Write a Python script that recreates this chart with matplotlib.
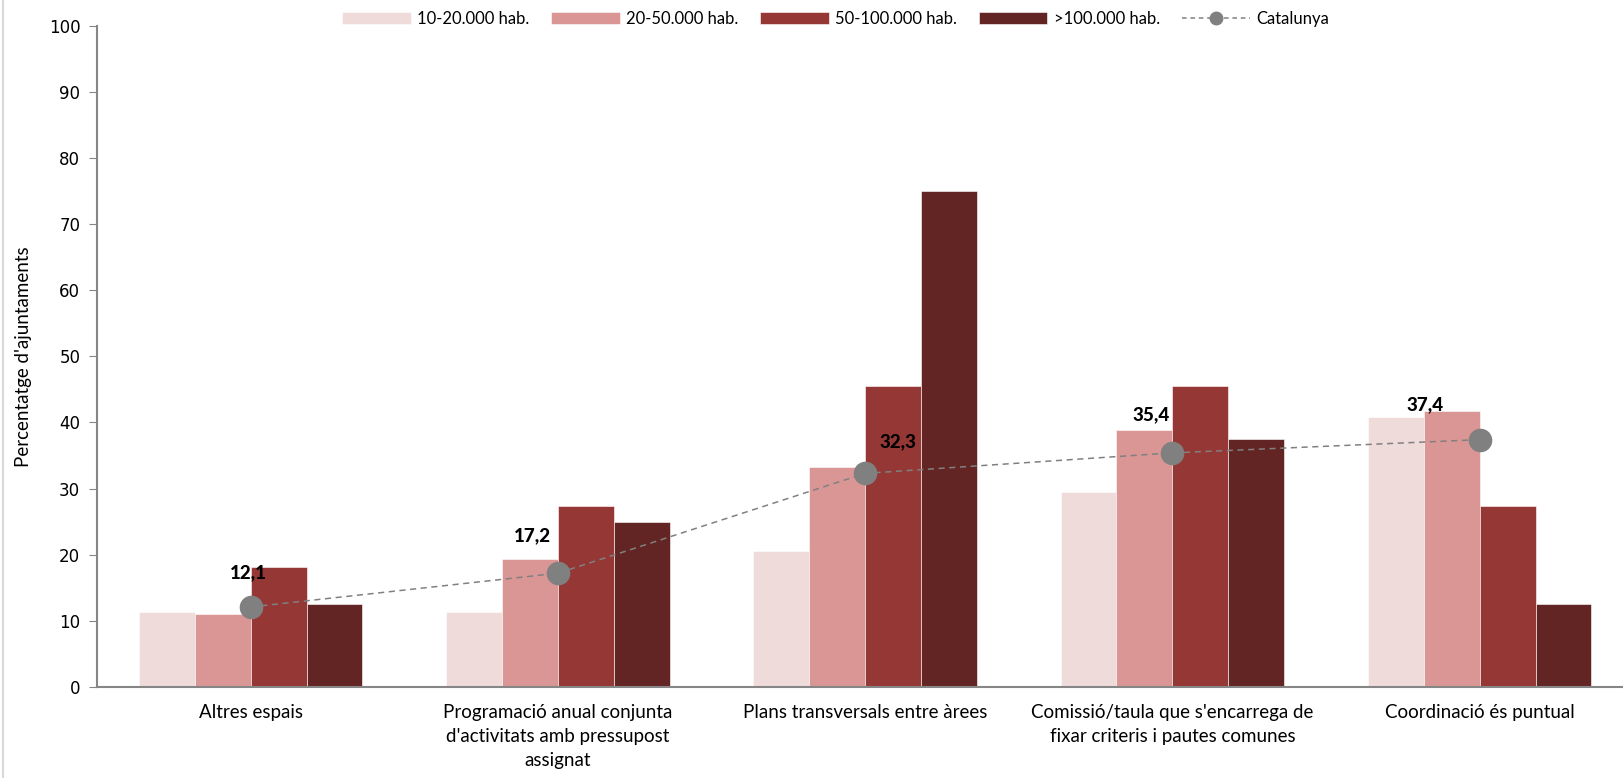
import matplotlib
matplotlib.use("Agg")
import matplotlib.pyplot as plt
import numpy as np
from matplotlib.lines import Line2D

# data
categories = ["Altres espais",
              "Programació anual conjunta\nd'activitats amb pressupost\nassignat",
              "Plans transversals entre àrees",
              "Comissió/taula que s'encarrega de\nfixar criteris i pautes comunes",
              "Coordinació és puntual"]
series_names = ["10-20.000 hab.", "20-50.000 hab.", "50-100.000 hab.", ">100.000 hab."]
hab_10_20 = [11.4, 11.4, 20.5, 29.5, 40.9]
hab_20_50 = [11.1, 19.4, 33.3, 38.9, 41.7]
hab_50_100 = [18.2, 27.3, 45.5, 45.5, 27.3]
hab_100 = [12.5, 25.0, 75.0, 37.5, 12.5]
catalunya = [12.1, 17.2, 32.3, 35.4, 37.4]

colors = ["#F0DBDB", "#D99694", "#953735", "#632523"]
label_offsets = [(-1.5, 24.5), (-18, 27), (24, 23), (-15, 27.5), (-39, 25)]

narrow = ["Lato", "DejaVu Sans"]

fig = plt.figure(figsize=(16.24, 7.78), dpi=100)
ax = fig.add_axes([0.0597, 0.117, 0.946, 0.850])

x = np.arange(len(categories))
w = 0.182
handles = []
for i, vals in enumerate([hab_10_20, hab_20_50, hab_50_100, hab_100]):
    b = ax.bar(x + (i - 1.5) * w, vals, width=w, color=colors[i], label=series_names[i],
               edgecolor="white", linewidth=0.4, zorder=2)
    handles.append(b)

ax.plot(x, catalunya, color="#808080", linestyle="--", linewidth=1.1, dashes=(4, 3),
        marker="o", markersize=16, markerfacecolor="#808080", markeredgecolor="#808080", zorder=3)
handles.append(Line2D([], [], color="#808080", linestyle="--", linewidth=1.1, dashes=(3, 2.5),
                      marker="o", markersize=9, markerfacecolor="#808080",
                      markeredgecolor="#808080", label="Catalunya"))
for xi, v, off in zip(x, catalunya, label_offsets):
    ax.annotate(f"{v:.1f}".replace(".", ","), (xi, v), xytext=off, textcoords="offset points",
                ha="center", va="center", fontsize=13.5, fontweight="black", family=narrow, zorder=4)

ax.set_xlim(-0.5, 4.5)
ax.set_ylim(0, 100)
ax.set_yticks(range(0, 101, 10))
ax.set_xticks(x)
ax.set_xticklabels(categories, family=narrow, fontsize=13.5, linespacing=1.5)
ax.tick_params(axis="x", length=0, pad=12)
ax.tick_params(axis="y", length=6, color="#868686", labelsize=12, direction="out", pad=6)
for s in ["top", "right"]:
    ax.spines[s].set_visible(False)
for s in ["left", "bottom"]:
    ax.spines[s].set_color("#868686")
    ax.spines[s].set_linewidth(1.5)
ax.set_ylabel("Percentatge d'ajuntaments", family=narrow, fontsize=13.5, labelpad=12)

leg = ax.legend(handles=handles, loc="upper center", bbox_to_anchor=(0.481, 1.045), ncol=5,
                frameon=False, prop={"family": narrow, "size": 12}, handlelength=4.1,
                handleheight=0.7, columnspacing=1.3, handletextpad=0.4)

# light frame line at the left edge of the picture
fig.add_artist(Line2D([0.002, 0.002], [0, 1], transform=fig.transFigure, color="#D9D9D9", linewidth=1.5))

fig.savefig("out.png", dpi=100)
